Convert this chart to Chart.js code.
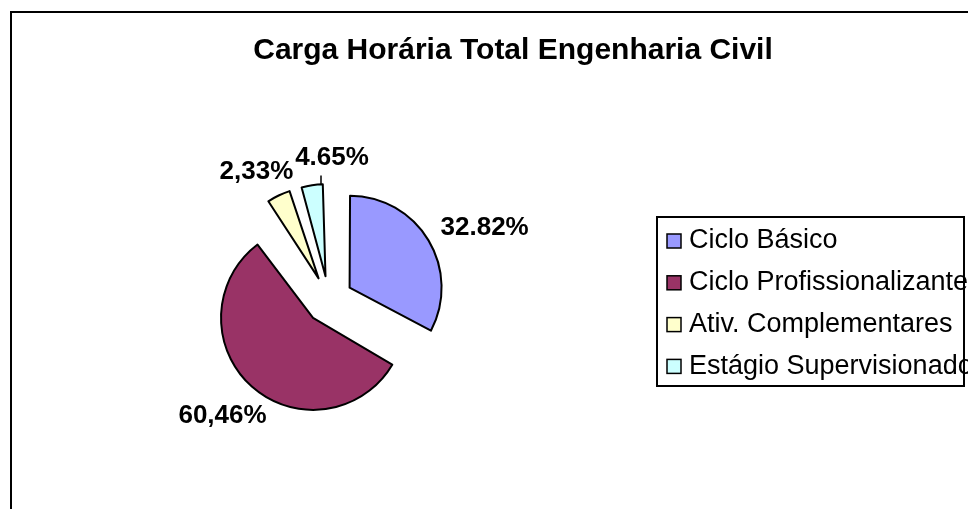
<!DOCTYPE html>
<html>
<head>
<meta charset="utf-8">
<script src="https://cdn.jsdelivr.net/npm/chart.js@4/dist/chart.umd.min.js"></script>
<style>
  html, body { margin: 0; padding: 0; background: #fff; }
  canvas { display: block; }
</style>
</head>
<body>
<canvas id="pie" width="968" height="509"></canvas>
<script>
const chartTitle = 'Carga Horária Total Engenharia Civil';
const categories = ['Ciclo Básico', 'Ciclo Profissionalizante', 'Ativ. Complementares', 'Estágio Supervisionado'];
// slice sizes as drawn (the printed labels below do not all match them)
const shares = [32.82, 57.53, 5.0, 4.65];
const shareLabels = ['32.82%', '60,46%', '2,33%', '4.65%'];
const sliceColors = ['#9999FF', '#993366', '#FFFFCC', '#CCFFFF'];

const FONT = "'Liberation Sans', Arial, sans-serif";
const PIE_RADIUS = 92;
const EXPLODE = 24;      // px each slice is pulled out
const LABEL_GAP = 12;
// small hand adjustments so labels sit where Excel put them
const labelNudge = [[8, -1], [8, 13], [-1, -4], [27, -6]];

// Chart.js shifts an arc by offset/4 but also grows its radius by offset/4 * fix;
// shrink the radius back so every slice keeps the same size, like Excel's explode
const flatExplode = {
  id: 'flatExplode',
  beforeDatasetsDraw(chart) {
    chart.getDatasetMeta(0).data.forEach(arc => {
      const shift = (arc.options.offset || 0) / 4;
      const fix = 1 - Math.sin(Math.min(Math.PI, arc.circumference));
      arc.outerRadius = PIE_RADIUS - shift * fix;
    });
  }
};

const framePlugin = {
  id: 'frame',
  beforeDraw(chart) {
    const ctx = chart.ctx;
    ctx.save();
    ctx.strokeStyle = '#000';
    ctx.lineWidth = 2;
    ctx.beginPath();
    ctx.moveTo(11, chart.height);
    ctx.lineTo(11, 12);
    ctx.lineTo(chart.width, 12);
    ctx.stroke();

    ctx.fillStyle = '#000';
    ctx.font = `bold 30px ${FONT}`;
    ctx.textAlign = 'center';
    ctx.textBaseline = 'middle';
    ctx.fillText(chartTitle, 513, 51);
    ctx.restore();
  },
  afterDatasetsDraw(chart) {
    const ctx = chart.ctx;
    const arcs = chart.getDatasetMeta(0).data;
    ctx.save();
    ctx.font = `bold 26px ${FONT}`;
    ctx.fillStyle = '#000';
    ctx.textAlign = 'center';
    ctx.textBaseline = 'middle';
    arcs.forEach((arc, i) => {
      const mid = (arc.startAngle + arc.endAngle) / 2;
      const dx = Math.cos(mid), dy = Math.sin(mid);
      const cx = arc.x + dx * EXPLODE;
      const cy = arc.y + dy * EXPLODE;
      const r = PIE_RADIUS + LABEL_GAP;
      const w = ctx.measureText(shareLabels[i]).width;
      const lx = cx + dx * r + dx * w / 2 + labelNudge[i][0];
      const ly = cy + dy * r + dy * 10 + labelNudge[i][1];
      ctx.fillText(shareLabels[i], lx, ly);

      // leader line for the thin slice label that sits right above it
      if (i === 3) {
        const tx = lx - 11;
        const ty = cy - Math.sqrt(PIE_RADIUS * PIE_RADIUS - (tx - cx) * (tx - cx));
        ctx.strokeStyle = '#000';
        ctx.lineWidth = 1.5;
        ctx.beginPath();
        ctx.moveTo(tx, ly + 18);
        ctx.lineTo(tx, ty);
        ctx.stroke();
      }
    });
    ctx.restore();
  },
  afterDraw(chart) {
    const ctx = chart.ctx;
    const box = { x: 657, y: 217, w: 307, h: 169 };
    const rowTop = 241, rowStep = 41.8;
    ctx.save();
    ctx.fillStyle = '#fff';
    ctx.fillRect(box.x, box.y, box.w, box.h);
    ctx.font = `27px ${FONT}`;
    ctx.textAlign = 'left';
    ctx.textBaseline = 'middle';
    categories.forEach((name, i) => {
      const y = rowTop + i * rowStep;
      ctx.fillStyle = sliceColors[i];
      ctx.fillRect(667, y - 7, 14, 14);
      ctx.strokeStyle = '#000';
      ctx.lineWidth = 1.5;
      ctx.strokeRect(667, y - 7, 14, 14);
      ctx.fillStyle = '#000';
      ctx.fillText(name, 689, y);
    });
    ctx.strokeStyle = '#000';
    ctx.lineWidth = 2;
    ctx.strokeRect(box.x, box.y, box.w, box.h);
    ctx.restore();
  }
};

new Chart(document.getElementById('pie'), {
  type: 'pie',
  data: {
    labels: categories,
    datasets: [{
      data: shares,
      backgroundColor: sliceColors,
      borderColor: '#000',
      borderWidth: 2,
      borderJoinStyle: 'round',
      offset: EXPLODE * 4
    }]
  },
  options: {
    responsive: false,
    animation: false,
    radius: PIE_RADIUS,
    layout: {
      padding: { left: 200, right: 510, top: 100, bottom: 9 }
    },
    plugins: {
      legend: { display: false },
      title: { display: false },
      tooltip: { enabled: false }
    }
  },
  plugins: [flatExplode, framePlugin]
});
</script>
</body>
</html>
